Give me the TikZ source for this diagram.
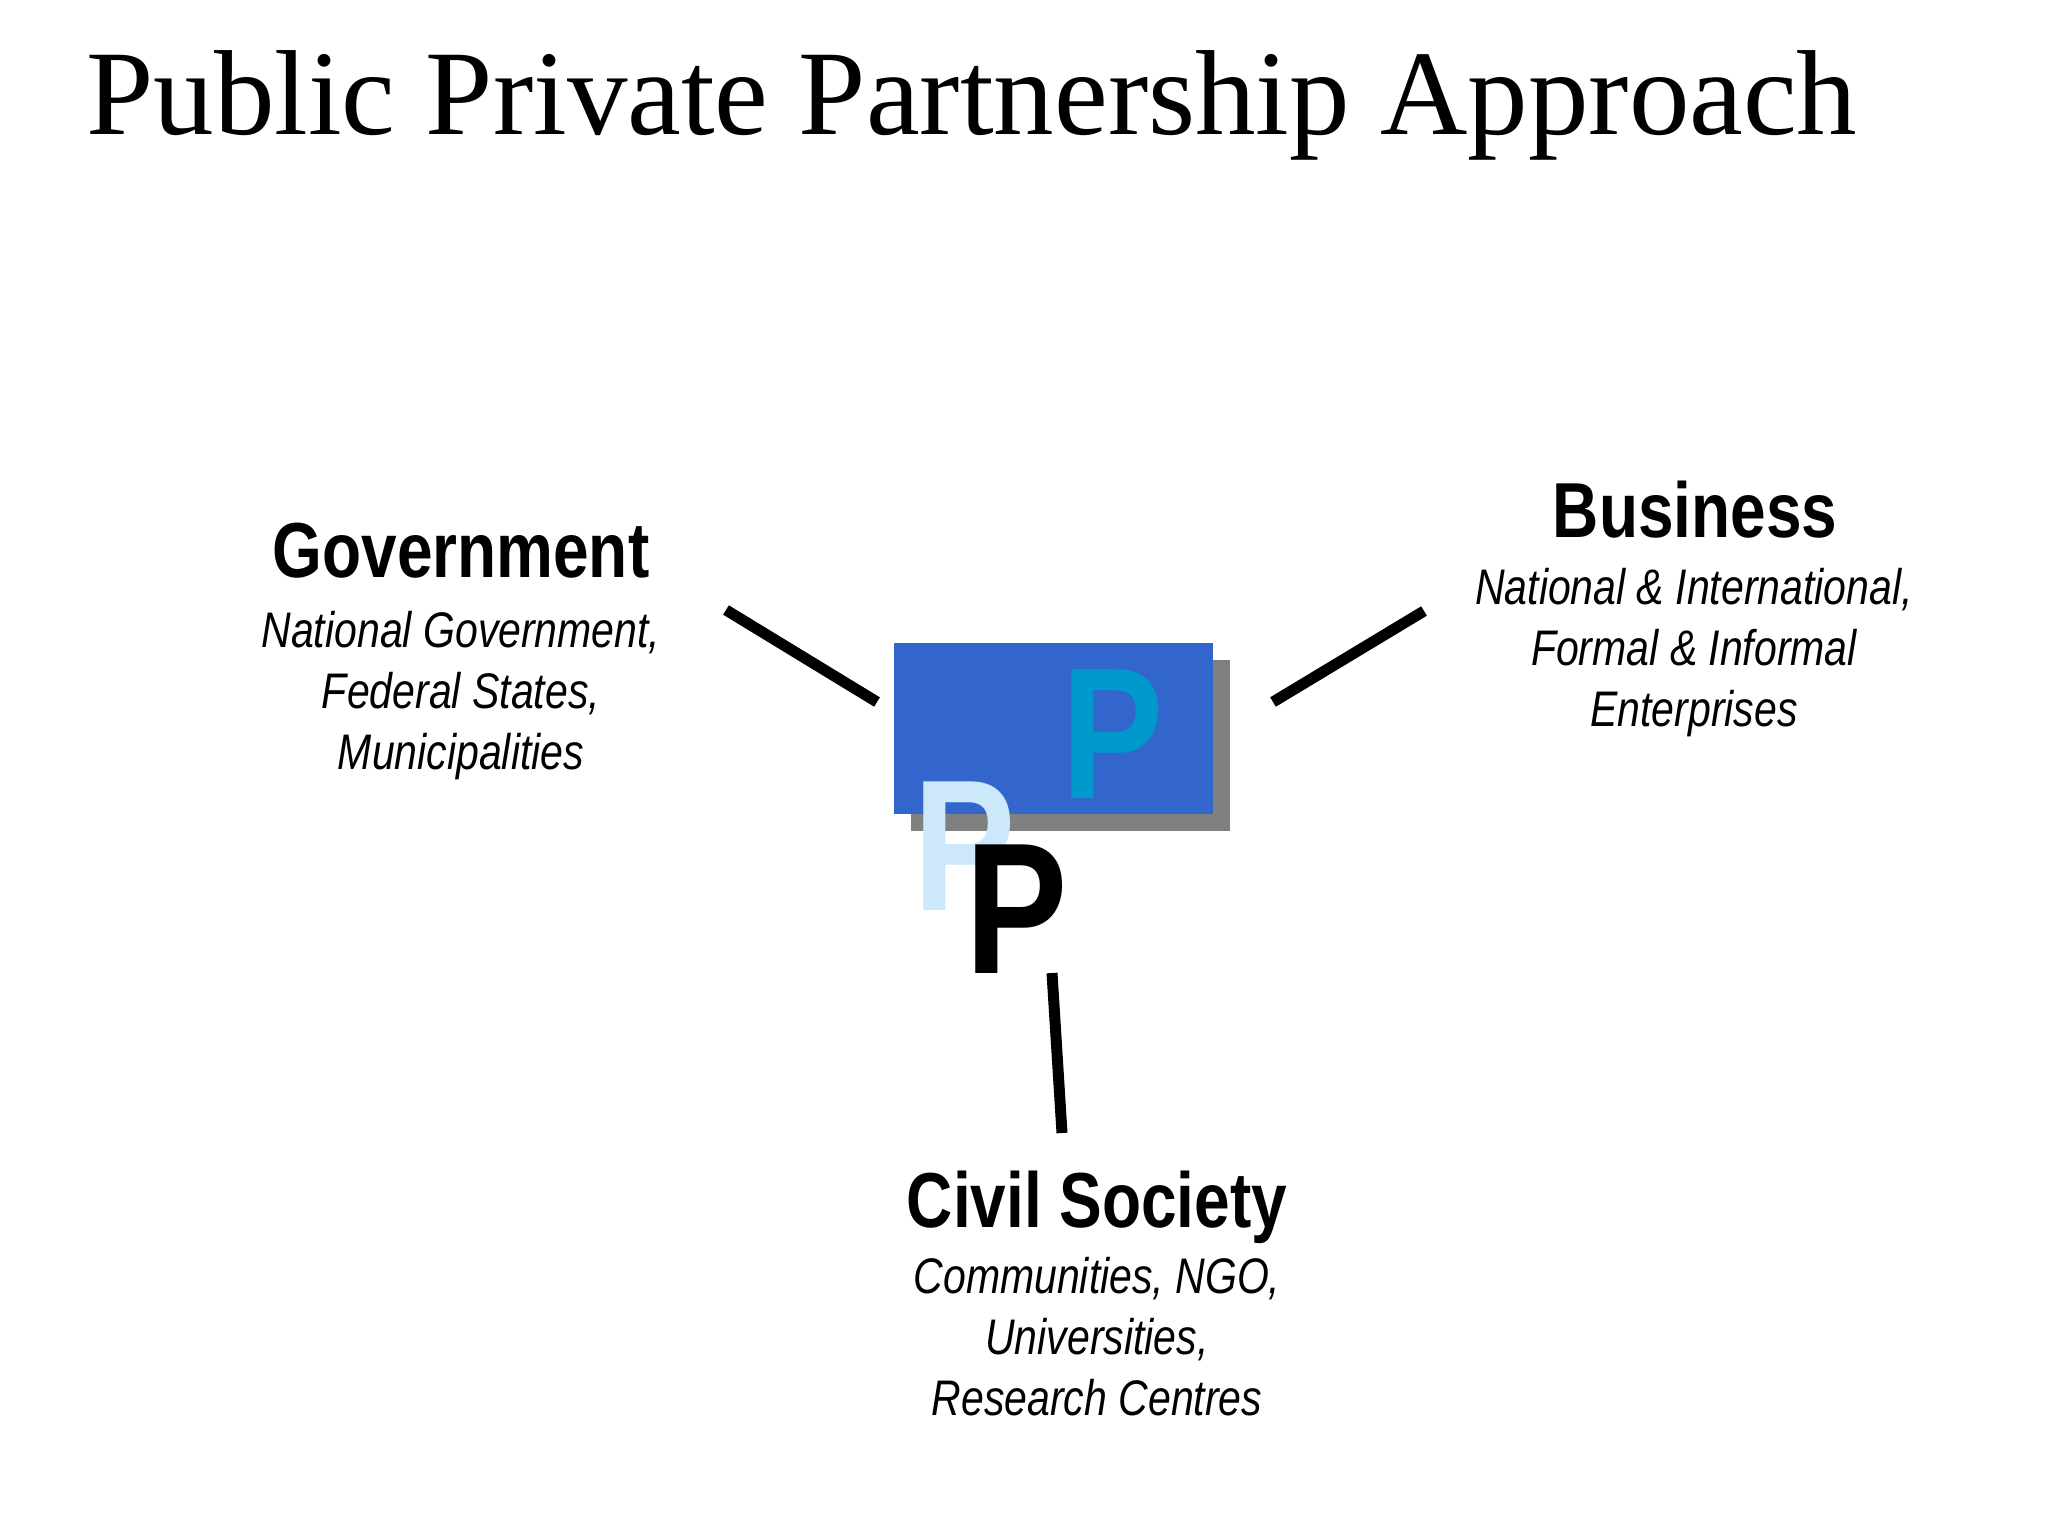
\documentclass[tikz,border=0pt]{standalone}
\usepackage{fontspec}
\usepackage{tikz}
\newfontfamily\titlefont{Liberation Serif}
\newfontfamily\narrowfont[FakeStretch=0.82]{Liberation Sans}
\definecolor{pppblue}{HTML}{3366CC}
\definecolor{pppcyan}{HTML}{0099CC}
\definecolor{ppplight}{HTML}{CCE8FA}
\definecolor{pppshadow}{HTML}{808080}

\begin{document}
\begin{tikzpicture}[x=0.5pt, y=-0.5pt, inner sep=0pt,
    head/.style={font=\narrowfont\bfseries\fontsize{39}{47}\selectfont, anchor=base},
    sub/.style={font=\narrowfont\itshape\fontsize{25}{30.5}\selectfont, align=center, anchor=base},
    bigp/.style={font=\narrowfont\bfseries\fontsize{93.5}{100}\selectfont, anchor=base},
    link/.style={line width=5.5pt}]
  \useasboundingbox[fill=white] (0,0) rectangle (2048,1536);
  \node[anchor=base west, font=\titlefont\fontsize{60.5}{70}\selectfont] (title) at (86,134) {Public Private Partnership Approach};
  % centre box with its shadow
  \node[fill=pppblue, minimum width=159.5pt, minimum height=85.5pt, anchor=north west,
    preaction={fill=pppshadow, transform canvas={shift={(17,17)}}}] (box) at (894,643) {};
  \node[bigp, text=pppcyan] (pcyan) at (1113,798) {P};
  \node[bigp, text=ppplight] (plight) at (965,910) {P};
  \node[bigp, text=black] (pblack) at (1017,973) {P};
  % the three partners (sub texts sit on their last line)
  \node[head] (govhead) at (461,577) {Government};
  \node[sub] (govtext) at (461,769) {National Government,\\Federal States,\\Municipalities};
  \node[head] (bizhead) at (1695,537) {Business};
  \node[sub] (biztext) at (1694,726) {National \& International,\\Formal \& Informal\\Enterprises};
  \node[head] (civhead) at (1097,1227) {Civil Society};
  \node[sub] (civtext) at (1097,1415) {Communities, NGO,\\Universities,\\Research Centres};
  % links
  \coordinate (govfrom) at (726,610);
  \coordinate (govto) at (877,702);
  \coordinate (bizfrom) at (1424,611);
  \coordinate (bizto) at (1273,702);
  \coordinate (civfrom) at (1062,1133);
  \coordinate (civto) at (1052,973);
  \draw[link] (govfrom) -- (govto);
  \draw[link] (bizfrom) -- (bizto);
  \draw[link] (civfrom) -- (civto);
\end{tikzpicture}
\end{document}
